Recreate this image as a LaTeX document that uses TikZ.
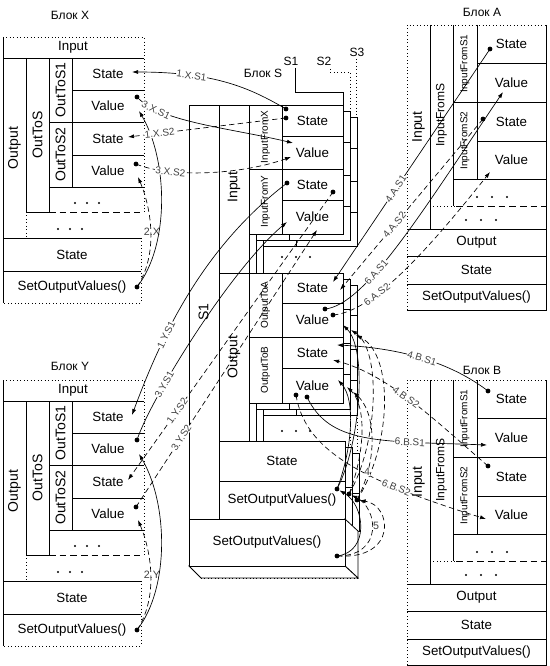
\documentclass[tikz,border=0pt]{standalone}
\usepackage{fontspec}
\setmainfont{Liberation Sans}
\usetikzlibrary{arrows.meta}
\tikzset{
  ln/.style={line width=0.6pt},
  dotl/.style={line width=0.6pt, dotted},
  dashl/.style={line width=0.6pt, dash pattern=on 5pt off 3pt},
  txt/.style={font=\fontsize{10}{12}\selectfont, inner sep=0pt},
  vtxt/.style={font=\fontsize{10.5}{12}\selectfont, rotate=90, inner sep=0pt},
  mtxt/.style={font=\fontsize{9}{11}\selectfont, rotate=90, inner sep=0pt},
  stxt/.style={font=\fontsize{7.5}{9}\selectfont, rotate=90, inner sep=0pt},
  ttl/.style={font=\fontsize{9}{11}\selectfont, inner sep=0pt},
  lbl/.style={font=\fontsize{7.5}{8}\selectfont, fill=white, inner sep=0.3pt, text=black!75, sloped},
  plbl/.style={font=\fontsize{8}{9}\selectfont, fill=white, inner sep=0.3pt, text=black!75},
  conn/.style={line width=0.5pt, -{Latex[length=4.5pt,width=3pt]}},
  connd/.style={conn, dash pattern=on 4pt off 2.5pt},
  pt/.style={circle, fill, inner sep=0pt, minimum size=3.6pt},
}
\newcommand\outblock[3]{%
\begin{scope}[shift={(0,#2)}]
  \draw[dotl] (3,37) -- (144,37) -- (144,212);
  \draw[dotl] (141,238) -- (141,303) -- (3,303);
  \draw[ln] (3,37) -- (3,303);
  \draw[ln] (3,58) -- (144,58);
  \node[txt] (#1tin) at (73,47.5) {Input};
  \draw[ln] (26,58) -- (26,212);
  \draw[dotl] (26,212) -- (26,238);
  \node[vtxt] (#1tout) at (14.5,148) {Output};
  \draw[ln] (49,58) -- (49,212);
  \node[vtxt] (#1tots) at (37.5,135) {OutToS};
  \draw[ln] (72,58) -- (72,187);
  \draw[ln] (49,122) -- (144,122);
  \draw[ln] (49,187) -- (144,187);
  \draw[ln] (72,90) -- (144,90);
  \draw[ln] (72,155) -- (144,155);
  \node[vtxt] (#1tots1) at (60.5,90) {OutToS1};
  \node[vtxt] (#1tots2) at (60.5,154.5) {OutToS2};
  \node[txt] (#1tst1) at (108,74) {State};
  \node[txt] (#1tva1) at (108,106) {Value};
  \node[txt] (#1tst2) at (108,138.5) {State};
  \node[txt] (#1tva2) at (108,171) {Value};
  \draw[ln] (26,212) -- (49,212);
  \draw[dashl] (49,212) -- (140,212);
  \foreach \xx in {75,87,99} \fill (\xx,203) circle (0.8pt);
  \foreach \xx in {58,70,82} \fill (\xx,229) circle (0.8pt);
  \draw[ln] (3,238) -- (141,238);
  \draw[ln] (3,271) -- (141,271);
  \node[txt] (#1tst) at (72,254.5) {State};
  \node[txt] (#1tsov) at (72,287) {SetOutputValues()};
  \coordinate (#1A1) at (132,72);
  \node[pt] (#1D1) at (137,97) {};
  \coordinate (#1A2) at (128,137);
  \node[pt] (#1D2) at (136,164) {};
  \node[pt] (#1SD) at (137,287) {};
  \coordinate (#1V1) at (139,111);
  \coordinate (#1V2) at (138,177);
  \node[plbl] (#1lab) at (152,232) {#3};
  \draw[conn] (#1SD.center) .. controls (170,245) and (168,160) .. (#1V1);
  \draw[connd] (#1SD.center) .. controls (158,255) and (152,210) .. (#1V2);
\end{scope}}
\newcommand\inblock[2]{%
\begin{scope}[shift={(0,#2)}]
  \draw[dotl] (407,310) -- (407,25) -- (546,25);
  \draw[ln] (546,25) -- (546,310) -- (407,310);
  \draw[ln] (430,25) -- (430,229);
  \node[vtxt] (#1tin) at (418.5,127) {Input};
  \draw[ln] (453,25) -- (453,206);
  \node[mtxt] (#1tifs) at (441.5,115) {InputFromS};
  \draw[ln] (477,25) -- (477,179);
  \draw[ln] (453,102) -- (546,102);
  \draw[ln] (453,179) -- (546,179);
  \draw[ln] (477,63) -- (546,63);
  \draw[ln] (477,141) -- (546,141);
  \node[stxt] (#1tifs1) at (465,63.5) {InputFromS1};
  \node[stxt] (#1tifs2) at (465,140.5) {InputFromS2};
  \node[txt] (#1tst1) at (511.5,44) {State};
  \node[txt] (#1tva1) at (511.5,82.5) {Value};
  \node[txt] (#1tst2) at (511.5,121.5) {State};
  \node[txt] (#1tva2) at (511.5,160) {Value};
  \draw[dotl] (430,206) -- (456,206);
  \draw[dashl] (456,206) -- (546,206);
  \foreach \xx in {477,492,507} \fill (\xx,197) circle (0.8pt);
  \foreach \xx in {466,481,496} \fill (\xx,220) circle (0.8pt);
  \draw[ln] (407,229) -- (546,229);
  \draw[ln] (407,256) -- (546,256);
  \draw[ln] (407,284) -- (546,284);
  \node[txt] (#1tout) at (476.5,242.5) {Output};
  \node[txt] (#1tst) at (476.5,270) {State};
  \node[txt] (#1tsov) at (476.5,297) {SetOutputValues()};
\end{scope}}
\begin{document}
\begin{tikzpicture}[x=0.75pt,y=-0.75pt]
\useasboundingbox (0,0) rectangle (549,666);
% titles
\node[ttl] (tX) at (70,15) {Блок X};
\node[ttl] (tY) at (70,366) {Блок Y};
\node[ttl] (tA) at (482,12) {Блок A};
\node[ttl] (tB) at (482,370) {Блок B};
\node[ttl] (tS) at (263,73) {Блок S};
% side blocks
\outblock{x}{0}{2.X}
\outblock{y}{343}{2.Y}
\inblock{a}{0}
\inblock{b}{355}
% ---------- block S : back layers ----------
\foreach \dx/\dy in {14/12, 7/6} {
  \draw[ln, fill=white] ({249+\dx},{105+\dy}) rectangle ({343+\dx},{234+\dy});
  \draw[ln] ({282+\dx},{105+\dy}) -- ({282+\dx},{234+\dy});
  \draw[ln] ({249+\dx},{169+\dy}) -- ({343+\dx},{169+\dy});
  \draw[ln] ({282+\dx},{136+\dy}) -- ({343+\dx},{136+\dy});
  \draw[ln] ({282+\dx},{200+\dy}) -- ({343+\dx},{200+\dy});
  \draw[ln] ({249+\dx},{234+\dy}) -- ({249+\dx},{273+\dy});
  \draw[ln, fill=white] ({249+\dx},{273+\dy}) rectangle ({343+\dx},{403+\dy});
  \draw[ln] ({282+\dx},{273+\dy}) -- ({282+\dx},{403+\dy});
  \draw[ln] ({249+\dx},{337+\dy}) -- ({343+\dx},{337+\dy});
  \draw[ln] ({282+\dx},{303+\dy}) -- ({343+\dx},{303+\dy});
  \draw[ln] ({282+\dx},{368+\dy}) -- ({343+\dx},{368+\dy});
  \draw[ln] ({249+\dx},{403+\dy}) -- ({249+\dx},{441+\dy});
  \draw[dotl] ({343+\dx},{403+\dy}) -- ({343+\dx},{441+\dy});
  \draw[ln, fill=white] ({219+\dx},{441+\dy}) rectangle ({345+\dx},{519+\dy});
  \draw[ln] ({219+\dx},{481+\dy}) -- ({345+\dx},{481+\dy});
}
% ---------- block S : front layer ----------
\draw[ln, fill=white] (189,105) rectangle (219,519);
\draw[ln, fill=white] (219,105) rectangle (249,273);
\draw[ln, fill=white] (249,105) rectangle (343,234);
\draw[ln] (282,105) -- (282,234);
\draw[ln] (249,169) -- (343,169);
\draw[ln] (282,136) -- (343,136);
\draw[ln] (282,200) -- (343,200);
\draw[ln, fill=white] (219,273) rectangle (249,441);
\draw[ln, fill=white] (249,273) rectangle (343,403);
\draw[ln] (282,273) -- (282,403);
\draw[ln] (249,337) -- (343,337);
\draw[ln] (282,303) -- (343,303);
\draw[ln] (282,368) -- (343,368);
\draw[ln, fill=white] (219,441) rectangle (345,519);
\draw[ln] (219,481) -- (345,481);
% big SetOutputValues as a prism
\draw[ln, fill=white] (345,519) -- (358,531) -- (358,578) -- (345,566) -- cycle;
\draw[ln, fill=white] (189,566) -- (201,578) -- (358,578) -- (345,566) -- cycle;
\draw[dotl] (201,578) -- (358,578);
\draw[ln, fill=white] (189,519) rectangle (345,566);
% S texts
\node[vtxt] (sS1) at (203.5,312) {S1};
\node[vtxt] (sIn) at (234,187) {Input};
\node[vtxt] (sOut) at (234,357) {Output};
\node[stxt] (sIFX) at (265.5,137) {InputFromX};
\node[stxt] (sIFY) at (265.5,201.5) {InputFromY};
\node[stxt] (sOTA) at (265.5,305) {OutputToA};
\node[stxt] (sOTB) at (265.5,370) {OutputToB};
\node[txt] (sts1) at (312.5,120.5) {State};
\node[txt] (stv1) at (312.5,152.5) {Value};
\node[txt] (sts2) at (312.5,184.5) {State};
\node[txt] (stv2) at (312.5,217) {Value};
\node[txt] (sos1) at (312.5,288) {State};
\node[txt] (sov1t) at (312.5,320) {Value};
\node[txt] (sos2) at (312.5,352.5) {State};
\node[txt] (sov2t) at (312.5,385.5) {Value};
\node[txt] (sst) at (282,461) {State};
\node[txt] (ssov) at (282,500) {SetOutputValues()};
\node[txt] (sbsov) at (267,542.5) {SetOutputValues()};
\foreach \xx in {282,296,310} \fill (\xx,257) circle (0.8pt);
\foreach \xx in {282,296,310} \fill (\xx,431) circle (0.8pt);
% S1 S2 S3 leaders
\node[ttl] (lS1) at (291,61) {S1};
\node[ttl] (lS2) at (324,61) {S2};
\node[ttl] (lS3) at (357,52) {S3};
\draw[ln] (295,68) -- (295,92) -- (343,92) -- (343,105);
\draw[dotl] (330,69) -- (330,72) -- (350,72) -- (350,111);
\draw[dotl] (356,59) -- (356,117);
% ---------- S anchor points ----------
\node[pt] (sx1) at (286,109) {};
\node[pt] (sx2) at (286,118) {};
\coordinate (sxv1) at (293,143);
\coordinate (sxv2) at (291,157);
\node[pt] (sy1) at (287,183) {};
\node[pt] (sy2) at (333,192) {};
\coordinate (syv1) at (287,222);
\coordinate (syv2) at (317,230);
\coordinate (soa1) at (333,282);
\coordinate (soa2) at (340,290);
\node[pt] (sav1) at (325,309) {};
\node[pt] (sav2) at (333,315) {};
\coordinate (sob1) at (337,345);
\coordinate (sob2) at (333,360);
\node[pt] (sbv2) at (296,395) {};
\node[pt] (sbv1) at (307,397) {};
\node[pt] (sv1) at (337,489) {};
\node[pt] (sv2) at (349,494) {};
\node[pt] (sv3) at (357,500) {};
\node[pt] (svb) at (337,556) {};
\coordinate (va1) at (343,325);
\coordinate (va2) at (351,330);
\coordinate (va3) at (356,335);
\coordinate (vb1) at (338,380);
\coordinate (vb2) at (347,387);
\coordinate (vb3) at (353,392);
% A/B anchor points
\node[pt] (asd1) at (490,49) {};
\coordinate (ava1) at (503,92);
\node[pt] (asd2) at (483,119) {};
\coordinate (ava2) at (490,172);
\node[pt] (bsd1) at (488,391) {};
\coordinate (bva1) at (487,445);
\node[pt] (bsd2) at (488,466) {};
\coordinate (bva2) at (486,519);
% ---------- connectors X ----------
\draw[conn] (sx1.center) .. controls (250,88) and (215,72) .. node[lbl,pos=0.72]{1.X.S1} (xA1);
\draw[conn] (xD1.center) .. controls (160,122) and (230,128) .. node[lbl,pos=0.2]{3.X.S1} (sxv1);
\draw[connd] (sx2.center) -- node[lbl,pos=0.8]{1.X.S2} (xA2);
\draw[connd] (xD2.center) .. controls (170,178) and (240,175) .. node[lbl,pos=0.27]{3.X.S2} (sxv2);
% ---------- connectors Y ----------
\draw[conn] (sy1.center) .. controls (200,250) and (160,340) .. node[lbl,pos=0.66]{1.Y.S1} (yA1);
\draw[conn] (yD1.center) .. controls (150,400) and (230,270) .. node[lbl,pos=0.3]{3.Y.S1} (syv1);
\draw[connd] (sy2.center) -- node[lbl,pos=0.76]{1.Y.S2} (yA2);
\draw[connd] (yD2.center) -- node[lbl,pos=0.25]{3.Y.S2} (syv2);
% ---------- connectors A ----------
\draw[conn] (asd1.center) -- node[lbl,pos=0.6]{4.A.S1} (soa1);
\draw[connd] (asd2.center) -- node[lbl,pos=0.62]{4.A.S2} (soa2);
\draw[conn] (sav1.center) .. controls (365,305) and (420,215) .. node[lbl,pos=0.37]{6.A.S1} (ava1);
\draw[connd] (sav2.center) .. controls (370,312) and (420,260) .. node[lbl,pos=0.35]{6.A.S2} (ava2);
% ---------- connectors B ----------
\draw[conn] (bsd1.center) .. controls (450,362) and (400,348) .. node[lbl,pos=0.5]{4.B.S1} (sob1);
\draw[connd] (bsd2.center) .. controls (440,425) and (390,375) .. node[lbl,pos=0.55]{4.B.S2} (sob2);
\draw[conn] (sbv1.center) .. controls (330,445) and (380,441) .. node[lbl,pos=0.72]{6.B.S1} (bva1);
\draw[connd] (sbv2.center) .. controls (305,450) and (360,480) .. node[lbl,pos=0.72]{6.B.S2} (bva2);
% ---------- step 5 ----------
\draw[conn] (sv1.center) .. controls (360,445) and (368,350) .. (va1);
\draw[conn] (sv1.center) .. controls (352,450) and (356,400) .. (vb1);
\draw[connd] (sv2.center) .. controls (378,445) and (382,350) .. (va2);
\draw[connd] (sv2.center) .. controls (366,450) and (366,405) .. (vb2);
\draw[connd] (sv3.center) .. controls (392,445) and (394,355) .. (va3);
\draw[connd] (sv3.center) .. controls (380,455) and (374,410) .. (vb3);
\draw[connd] (svb.center) .. controls (398,560) and (392,505) .. (sv3);
\draw[connd] (svb.center) .. controls (384,556) and (378,508) .. (sv2);
\draw[conn] (svb.center) .. controls (370,552) and (365,505) .. (sv1);
\node[plbl] (l4) at (367,472) {4};
\node[plbl] (l5) at (376,526) {5};
\end{tikzpicture}
\end{document}
